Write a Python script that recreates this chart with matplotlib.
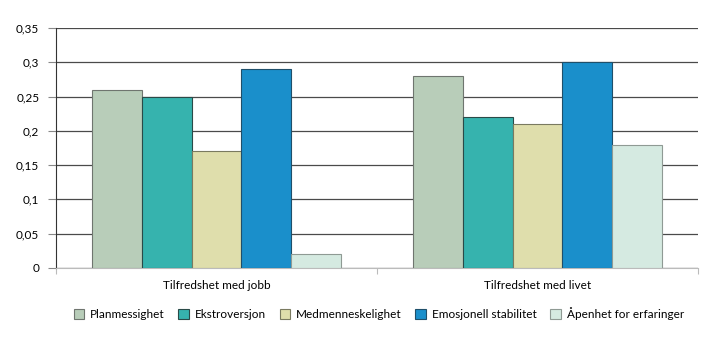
import numpy as np
import matplotlib.pyplot as plt

plt.rcParams['font.family'] = ['Lato', 'DejaVu Sans']

kategorier = ['Tilfredshet med jobb', 'Tilfredshet med livet']
serier = ['Planmessighet', 'Ekstroversjon', 'Medmenneskelighet',
          'Emosjonell stabilitet', 'Åpenhet for erfaringer']
verdier = [
    [0.26, 0.28],
    [0.25, 0.22],
    [0.17, 0.21],
    [0.29, 0.30],
    [0.02, 0.18],
]
farger = ['#b8cdb9', '#36b3ae', '#dfdeac', '#1a8fcb', '#d5eae1']
kanter = ['#6f756f', '#2a4a48', '#7a7a60', '#1f4f6a', '#8f9a94']

fig = plt.figure(figsize=(7.19, 3.41), dpi=100)
ax = fig.add_axes([0.0779, 0.2141, 0.893, 0.7038])

x = np.arange(len(kategorier))
bredde = 0.155
for i, (navn, v) in enumerate(zip(serier, verdier)):
    pos = x + (i - 2) * bredde
    ax.bar(pos, v, width=bredde, color=farger[i], edgecolor=kanter[i],
           linewidth=0.8, label=navn, zorder=3)

ax.set_xlim(-0.5, 1.5)
ax.set_ylim(0, 0.35)
yticks = [0, 0.05, 0.1, 0.15, 0.2, 0.25, 0.3, 0.35]
ax.set_yticks(yticks)
ax.set_yticklabels(['0', '0,05', '0,1', '0,15', '0,2', '0,25', '0,3', '0,35'])
ax.yaxis.grid(True, color='#4a4a4a', linewidth=0.9, zorder=0)
ax.set_axisbelow(True)

# kategorietiketter midt i hver gruppe, skillestreker mellom gruppene
ax.set_xticks([-0.5, 0.5, 1.5])
ax.set_xticklabels([])
ax.set_xticks(x, minor=True)
ax.set_xticklabels(kategorier, minor=True)
ax.tick_params(axis='x', which='minor', length=0, pad=9, labelsize=8.5)
ax.tick_params(axis='x', which='major', length=4, color='#bbbbbb')
ax.tick_params(axis='y', length=6, color='#888888', labelsize=8.5, pad=6)

for s in ['top', 'right']:
    ax.spines[s].set_visible(False)
ax.spines['left'].set_color('#333333')
ax.spines['bottom'].set_color('#bbbbbb')

fig.legend(loc='center', bbox_to_anchor=(0.527, 0.08), ncol=5, frameon=False,
           fontsize=8.5, handlelength=0.9, handleheight=0.9, handletextpad=0.5,
           columnspacing=1.15)

fig.savefig('out.png', dpi=100)
